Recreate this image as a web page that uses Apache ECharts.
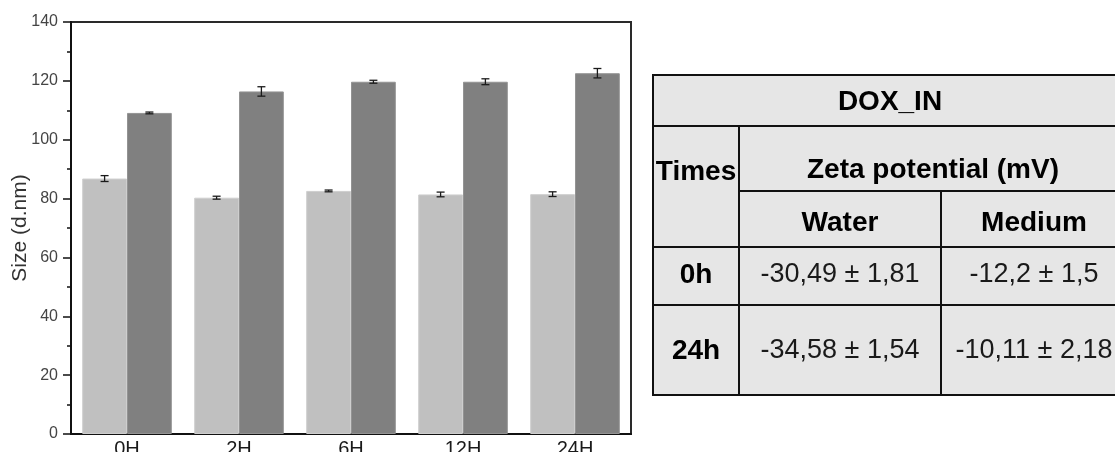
<!DOCTYPE html>
<html>
<head>
<meta charset="utf-8">
<script src="https://cdn.jsdelivr.net/npm/echarts@6/dist/echarts.min.js"></script>
<style>
html,body{margin:0;padding:0;background:#fff;}
#chart{width:1115px;height:452px;}
</style>
</head>
<body>
<div id="chart"></div>
<script>
// ---- data ----
const categories = ['0H', '2H', '6H', '12H', '24H'];
const waterSize = [86.8, 80.3, 82.6, 81.4, 81.5];
const waterErr = [1.0, 0.5, 0.3, 0.8, 0.8];
const mediumSize = [109.1, 116.4, 119.7, 119.7, 122.6];
const mediumErr = [0.3, 1.6, 0.5, 1.0, 1.6];
const yTicks = [0, 20, 40, 60, 80, 100, 120, 140];
const yAxisTitle = 'Size (d.nm)';

const tableTitle = 'DOX_IN';
const tableTimesHeader = 'Times';
const tableGroupHeader = 'Zeta potential (mV)';
const tableColumns = ['Water', 'Medium'];
const tableRowLabels = ['0h', '24h'];
const tableValues = [
  ['-30,49 ± 1,81', '-12,2 ± 1,5'],
  ['-34,58 ± 1,54', '-10,11 ± 2,18']
];

// ---- layout ----
const FONT = '"Liberation Sans", Arial, sans-serif';
const chart = echarts.init(document.getElementById('chart'));

const catGap = 0.2;
function errData(vals, errs, side) {
  return vals.map((v, i) => [i, v, errs[i], side]);
}
function renderErr(params, api) {
  const i = api.value(0), v = api.value(1), e = api.value(2), side = api.value(3);
  const band = api.size([1, 0])[0];
  const barW = band * (1 - catGap) / 2;
  const c = api.coord([i, v]);
  const x = c[0] + side * barW / 2;
  const yTop = api.coord([i, v + e])[1];
  const yBot = api.coord([i, v - e])[1];
  const cap = 4;
  const st = { stroke: '#1a1a1a', lineWidth: 1.3 };
  return {
    type: 'group',
    children: [
      { type: 'line', shape: { x1: x, y1: yTop, x2: x, y2: yBot }, style: st },
      { type: 'line', shape: { x1: x - cap, y1: yTop, x2: x + cap, y2: yTop }, style: st },
      { type: 'line', shape: { x1: x - cap, y1: yBot, x2: x + cap, y2: yBot }, style: st }
    ]
  };
}

// table geometry
const T = { x0: 653, x1: 739, x2: 941, x3: 1127, y0: 75, y1: 126, y2: 191, y3: 247, y4: 305, y5: 395 };
const lineStyle = { stroke: '#111', lineWidth: 2 };
function hline(y, xa, xb) { return { type: 'line', shape: { x1: xa, y1: y, x2: xb, y2: y }, style: lineStyle, z: 101 }; }
function vline(x, ya, yb) { return { type: 'line', shape: { x1: x, y1: ya, x2: x, y2: yb }, style: lineStyle, z: 101 }; }
function txt(s, x, y, bold) {
  return {
    type: 'text', x: x, y: y, z: 102,
    style: {
      text: s, align: 'center', verticalAlign: 'middle',
      font: (bold ? 'bold 28px ' : '27px ') + FONT,
      fill: bold ? '#000' : '#1a1a1a'
    }
  };
}
const colCenters = [(T.x1 + T.x2) / 2, (T.x2 + T.x3) / 2];
const rowCenters = [275, 351];
const tableGraphics = [
  { type: 'rect', shape: { x: T.x0, y: T.y0, width: T.x3 - T.x0, height: T.y5 - T.y0 },
    style: { fill: '#e6e6e6', stroke: '#111', lineWidth: 2 }, z: 100 },
  hline(T.y1, T.x0, T.x3),
  hline(T.y2, T.x1, T.x3),
  hline(T.y3, T.x0, T.x3),
  hline(T.y4, T.x0, T.x3),
  vline(T.x1, T.y1, T.y5),
  vline(T.x2, T.y2, T.y5),
  txt(tableTitle, (T.x0 + T.x3) / 2, 102, true),
  txt(tableTimesHeader, (T.x0 + T.x1) / 2, 172, true),
  txt(tableGroupHeader, (T.x1 + T.x3) / 2, 170, true),
  txt(tableColumns[0], colCenters[0], 223, true),
  txt(tableColumns[1], colCenters[1], 223, true)
];
tableRowLabels.forEach((r, ri) => {
  tableGraphics.push(txt(r, (T.x0 + T.x1) / 2, rowCenters[ri], true));
  tableValues[ri].forEach((v, ci) => tableGraphics.push(txt(v, colCenters[ci], rowCenters[ri], false)));
});

const option = {
  backgroundColor: '#fff',
  animation: false,
  grid: {
    left: 71, right: 484, top: 22, bottom: 18,
    containLabel: false, outerBoundsMode: 'none',
    show: true, borderColor: '#2a2a2a', borderWidth: 2, backgroundColor: 'transparent'
  },
  xAxis: {
    type: 'category',
    data: categories,
    axisLine: { lineStyle: { color: '#111', width: 2 } },
    axisTick: { show: false },
    axisLabel: { color: '#1a1a1a', fontSize: 20, fontFamily: FONT, margin: 5 }
  },
  yAxis: {
    type: 'value',
    min: yTicks[0], max: yTicks[yTicks.length - 1], interval: yTicks[1] - yTicks[0],
    name: yAxisTitle,
    nameLocation: 'middle',
    nameGap: 40,
    nameMoveOverlap: false,
    nameRotate: 90,
    nameTextStyle: { color: '#333', fontSize: 21, fontFamily: FONT },
    axisLine: { show: true, lineStyle: { color: '#111', width: 2 } },
    axisTick: { show: true, inside: false, length: 8, lineStyle: { color: '#111', width: 1.5 } },
    minorTick: { show: true, splitNumber: 2, length: 4, lineStyle: { color: '#111', width: 1.5 } },
    splitLine: { show: false },
    axisLabel: { color: '#444', fontSize: 16, fontFamily: FONT, margin: 13 }
  },
  series: [
    {
      type: 'bar', data: waterSize, barGap: '0%', barCategoryGap: (catGap * 100) + '%',
      itemStyle: { color: '#c0c0c0', borderColor: '#cecece', borderWidth: 1 }
    },
    {
      type: 'bar', data: mediumSize, barGap: '0%', barCategoryGap: (catGap * 100) + '%',
      itemStyle: { color: '#808080', borderColor: '#939393', borderWidth: 1 }
    },
    { type: 'custom', data: errData(waterSize, waterErr, -1), renderItem: renderErr, z: 10 },
    { type: 'custom', data: errData(mediumSize, mediumErr, 1), renderItem: renderErr, z: 10 }
  ],
  graphic: tableGraphics
};
chart.setOption(option);
</script>
</body>
</html>
